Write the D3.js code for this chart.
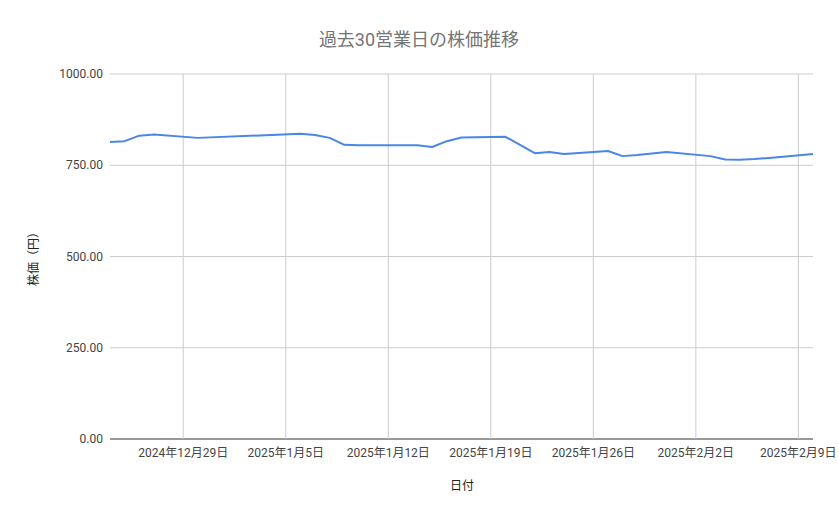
<!DOCTYPE html>
<html><head><meta charset="utf-8">
<script src="https://cdn.jsdelivr.net/npm/d3@7"></script>
<style>body{margin:0;background:#fff;font-family:Roboto,"Noto Sans CJK JP",sans-serif}</style>
</head><body><svg id="c" width="839" height="519"></svg>
<script>
var dates = ["2024-12-24","2024-12-25","2024-12-26","2024-12-27","2024-12-30",
  "2025-01-06","2025-01-07","2025-01-08","2025-01-09","2025-01-10",
  "2025-01-14","2025-01-15","2025-01-16","2025-01-17",
  "2025-01-20","2025-01-21","2025-01-22","2025-01-23","2025-01-24",
  "2025-01-27","2025-01-28","2025-01-29","2025-01-30","2025-01-31",
  "2025-02-03","2025-02-04","2025-02-05","2025-02-06","2025-02-07","2025-02-10"];
var prices = [814,816,831,834,825, 836,833,825,806,805, 805,800,816,826,
  828,806,783,786,781, 789,775,778,782,786, 775,766,765,767,770,781];
var tickDates = ["2024-12-29","2025-01-05","2025-01-12","2025-01-19","2025-01-26","2025-02-02","2025-02-09"];
var tickLabels = ["2024年12月29日","2025年1月5日","2025年1月12日","2025年1月19日","2025年1月26日","2025年2月2日","2025年2月9日"];
var yTicks = [0,250,500,750,1000];

var parse = d3.timeParse("%Y-%m-%d");
var svg = d3.select("#c");
var x = d3.scaleTime().domain([parse("2024-12-24"), parse("2025-02-10")]).range([110, 813]);
var y = d3.scaleLinear().domain([0, 1000]).range([439, 74]);

svg.append("text").attr("x", 419).attr("y", 46).attr("text-anchor", "middle")
  .attr("font-size", 18).attr("fill", "#757575").text("過去30営業日の株価推移");

svg.selectAll(".hg").data(yTicks).enter().append("line")
  .attr("x1", 110).attr("x2", 813).attr("y1", d => y(d)).attr("y2", d => y(d))
  .attr("stroke", d => d === 0 ? "#333" : "#ccc");
svg.selectAll(".vg").data(tickDates).enter().append("line")
  .attr("x1", d => x(parse(d))).attr("x2", d => x(parse(d)))
  .attr("y1", 74).attr("y2", 439).attr("stroke", "#ccc");

svg.selectAll(".yl").data(yTicks).enter().append("text")
  .attr("x", 103).attr("y", d => y(d) + 4).attr("text-anchor", "end")
  .attr("font-size", 12).attr("fill", "#444").text(d => d3.format(".2f")(d));
svg.selectAll(".xl").data(tickDates).enter().append("text")
  .attr("x", d => x(parse(d))).attr("y", 457).attr("text-anchor", "middle")
  .attr("font-size", 12).attr("fill", "#444").text((d, i) => tickLabels[i]);

svg.append("text").attr("x", 462).attr("y", 490).attr("text-anchor", "middle")
  .attr("font-size", 12).attr("fill", "#222").text("日付");
svg.append("text").attr("transform", "translate(38,256) rotate(-90)").attr("text-anchor", "middle")
  .attr("font-size", 12).attr("fill", "#222").text("株価（円）");

var line = d3.line().x((d, i) => x(parse(dates[i]))).y(d => y(d));
svg.append("path").datum(prices).attr("d", line).attr("fill", "none")
  .attr("stroke", "#4a86e8").attr("stroke-width", 2).attr("stroke-linejoin", "round");
</script></body></html>
